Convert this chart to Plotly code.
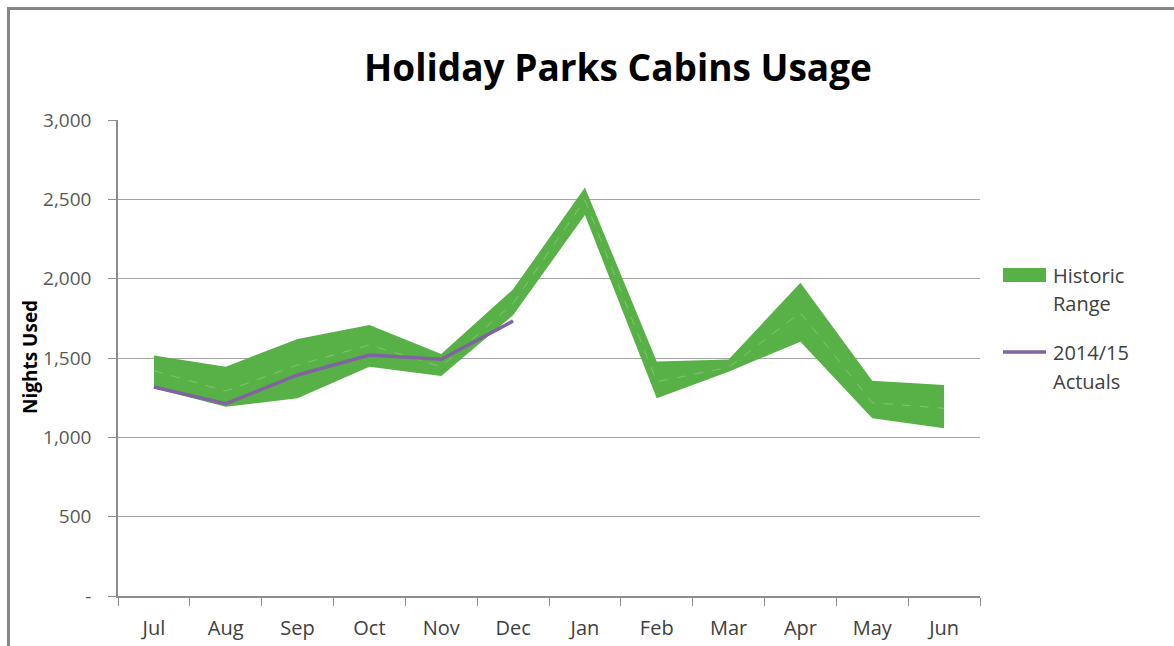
import plotly.graph_objects as go

months = ["Jul", "Aug", "Sep", "Oct", "Nov", "Dec", "Jan", "Feb", "Mar", "Apr", "May", "Jun"]
hist_upper = [1515, 1445, 1620, 1708, 1525, 1933, 2575, 1478, 1490, 1975, 1357, 1330]
hist_lower = [1310, 1193, 1246, 1445, 1387, 1770, 2401, 1246, 1414, 1603, 1120, 1057]
hist_mid = [1420, 1292, 1456, 1582, 1445, 1845, 2496, 1351, 1441, 1786, 1218, 1183]
actual_months = ["Jul", "Aug", "Sep", "Oct", "Nov", "Dec"]
actual_values = [1317, 1212, 1393, 1519, 1492, 1733]

ytick_vals = [0, 500, 1000, 1500, 2000, 2500, 3000]
ytick_text = ["-", "500", "1,000", "1,500", "2,000", "2,500", "3,000"]

GREEN = "#58b147"
PURPLE = "#8064a2"
FONT = "Open Sans"

fig = go.Figure()
fig.add_trace(go.Scatter(x=months, y=hist_lower, mode="lines", line=dict(width=0, color=GREEN),
                         showlegend=False, hoverinfo="skip"))
fig.add_trace(go.Scatter(x=months, y=hist_upper, mode="lines", line=dict(width=0, color=GREEN),
                         fill="tonexty", fillcolor=GREEN, name="Historic Range", showlegend=False))
fig.add_trace(go.Scatter(x=months, y=hist_mid, mode="lines",
                         line=dict(width=1, color="rgba(215,238,205,0.3)", dash="dash"),
                         showlegend=False, hoverinfo="skip"))
fig.add_trace(go.Scatter(x=actual_months, y=actual_values, mode="lines",
                         line=dict(width=3.5, color=PURPLE), name="2014/15 Actuals", showlegend=False))

W, H = 1174, 646
L, R, T, B = 118, 980, 120, 596
pw, ph = R - L, B - T

def px_x(p):
    return (p - L) / pw

def px_y(p):
    return (B - p) / ph

legend_shapes = [
    dict(type="rect", xref="paper", yref="paper", x0=px_x(1003), x1=px_x(1046),
         y0=px_y(282), y1=px_y(268), fillcolor=GREEN, line=dict(width=0)),
    dict(type="line", xref="paper", yref="paper", x0=px_x(1003), x1=px_x(1046),
         y0=px_y(352), y1=px_y(352), line=dict(color=PURPLE, width=3.5)),
]
legend_labels = [("Historic", 275), ("Range", 303), ("2014/15", 352), ("Actuals", 381)]
annotations = [dict(text=t, x=px_x(1051), y=px_y(yc), xref="paper", yref="paper",
                    xanchor="left", yanchor="middle", showarrow=False,
                    font=dict(size=20, color="#404040", family=FONT))
               for t, yc in legend_labels]
annotations.append(dict(text="<b>Nights Used</b>", textangle=-90, x=px_x(30), y=px_y(357),
                        xref="paper", yref="paper", xanchor="center", yanchor="middle",
                        showarrow=False, font=dict(size=19, color="black", family=FONT)))

fig.update_layout(
    width=W, height=H,
    margin=dict(l=L, r=W - R, t=T, b=H - B, autoexpand=False),
    paper_bgcolor="white", plot_bgcolor="white",
    font=dict(family=FONT, color="#404040"),
    title=dict(text="<b>Holiday Parks Cabins Usage</b>", x=618 / W, xanchor="center",
               y=1 - 68 / H, yanchor="middle", yref="container",
               font=dict(size=37, color="black", family=FONT)),
    xaxis=dict(type="category", categoryorder="array", categoryarray=months,
               tickson="boundaries", ticks="outside", ticklen=8, tickcolor="#8c8c8c",
               showline=True, linecolor="#8c8c8c", linewidth=1.5, showgrid=False,
               tickfont=dict(size=20, color="#404040"), range=[-0.5, 11.5],
               ticklabelstandoff=13, automargin=False),
    yaxis=dict(range=[0, 3000], tickvals=ytick_vals, ticktext=ytick_text,
               ticks="outside", ticklen=8, tickcolor="#8c8c8c",
               showline=True, linecolor="#8c8c8c", linewidth=1.5,
               showgrid=True, gridcolor="#a6a6a6", gridwidth=1,
               tickfont=dict(size=19, color="#595959"), zeroline=False,
               ticklabelstandoff=13, automargin=False),
    showlegend=False,
    annotations=annotations,
    shapes=[dict(type="rect", xref="paper", yref="paper",
                 x0=px_x(8.5), x1=px_x(1200), y0=px_y(680), y1=px_y(8.5),
                 line=dict(color="#868686", width=3), layer="below")] + legend_shapes,
)

fig.write_html("out.html")
